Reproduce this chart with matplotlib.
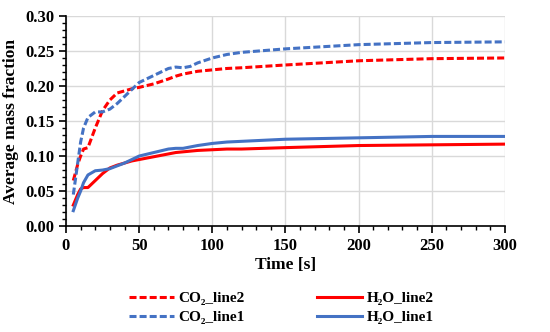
import matplotlib.pyplot as plt
from matplotlib.ticker import MultipleLocator

plt.rcParams['font.family'] = ['Liberation Serif', 'DejaVu Serif']
plt.rcParams['font.weight'] = 'bold'

# data
t = [5, 8, 10, 12, 15, 20, 25, 30, 35, 40, 45, 50, 60, 70, 75, 80, 85, 90, 100, 110, 120, 150, 200, 250, 300]
co2_line2 = [0.065, 0.088, 0.100, 0.110, 0.112, 0.140, 0.165, 0.180, 0.190, 0.193, 0.196, 0.198, 0.203, 0.210, 0.214, 0.217, 0.219, 0.221, 0.223, 0.225, 0.226, 0.230, 0.236, 0.239, 0.240]
co2_line1 = [0.045, 0.090, 0.120, 0.140, 0.155, 0.163, 0.163, 0.167, 0.175, 0.185, 0.195, 0.205, 0.215, 0.225, 0.227, 0.226, 0.228, 0.233, 0.240, 0.245, 0.248, 0.253, 0.259, 0.262, 0.263]
h2o_line2 = [0.030, 0.045, 0.053, 0.055, 0.055, 0.065, 0.075, 0.083, 0.087, 0.090, 0.093, 0.095, 0.099, 0.103, 0.105, 0.106, 0.107, 0.108, 0.109, 0.110, 0.110, 0.112, 0.115, 0.116, 0.117]
h2o_line1 = [0.022, 0.040, 0.050, 0.062, 0.073, 0.079, 0.080, 0.082, 0.086, 0.090, 0.095, 0.100, 0.105, 0.110, 0.111, 0.111, 0.113, 0.115, 0.118, 0.120, 0.121, 0.124, 0.126, 0.128, 0.128]

red = '#FF0000'
blue = '#4472C4'
dash = (2.3, 1.0)

fig = plt.figure(figsize=(5.5, 3.32), dpi=100)
ax = fig.add_axes([0.12, 0.319, 0.798, 0.633])

ax.plot(t, co2_line2, '--', dashes=dash, color=red, lw=2.2, label='CO₂_line2')
ax.plot(t, co2_line1, '--', dashes=dash, color=blue, lw=2.2, label='CO₂_line1')
ax.plot(t, h2o_line2, '-', color=red, lw=2.2, label='H₂O_line2')
ax.plot(t, h2o_line1, '-', color=blue, lw=2.2, label='H₂O_line1')

ax.set_xlim(0, 300)
ax.set_ylim(0, 0.30)
ax.xaxis.set_major_locator(MultipleLocator(50))
ax.xaxis.set_minor_locator(MultipleLocator(10))
ax.yaxis.set_major_locator(MultipleLocator(0.05))
ax.yaxis.set_minor_locator(MultipleLocator(0.01))
ax.set_yticklabels(['%.2f' % v for v in ax.get_yticks()])
ax.grid(True, which='major', color='#D9D9D9', lw=1)
ax.set_axisbelow(True)
for s in ['top', 'right']:
    ax.spines[s].set_visible(False)
ax.spines['left'].set_linewidth(1.2)
ax.spines['bottom'].set_linewidth(1.2)
ax.tick_params(which='major', length=5, width=1.2, labelsize=12)
ax.tick_params(which='minor', length=3, width=1)

ax.set_xlabel('Time [s]', fontsize=12.5, fontweight='bold', labelpad=2)
ax.set_ylabel('Average mass fraction', fontsize=12.5, fontweight='bold', labelpad=4)

fig.legend(loc='center', bbox_to_anchor=(281/550, 1-308/332), ncol=2, frameon=False,
           fontsize=11, columnspacing=4.7, handlelength=3.0, handletextpad=0.26, labelspacing=0.35)

fig.savefig('out.png', dpi=100)
